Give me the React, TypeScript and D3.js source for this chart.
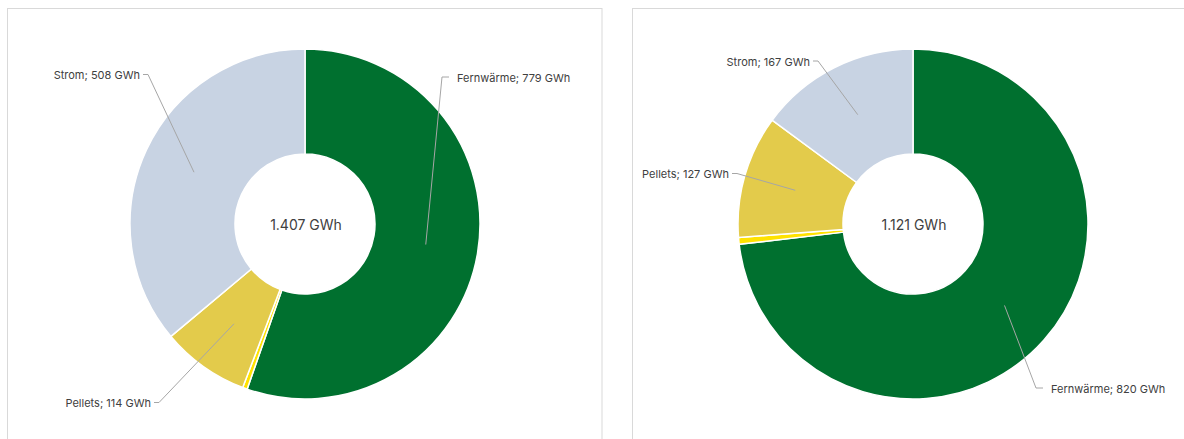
import React from "react";
import * as d3 from "d3";

// ---- data ----
const categories = ["Fernwärme", "Sonstige", "Pellets", "Strom"];
const valuesLeft = [779, 6, 114, 508];
const valuesRight = [820, 7, 127, 167];
const unit = "GWh";

// ---- layout / style ----
const W = 1184;
const H = 439;
const colors = ["#00702F", "#FFE200", "#E3CB4B", "#C8D3E3"];
const outerR = 175;
const innerR = 70;

type LabelLayout = { cat: string; ax: number; ay: number; side: "left" | "right" };

const charts = [
  {
    values: valuesLeft,
    cx: 305,
    cy: 224,
    panel: { x: 7.5, y: 8.5, w: 594.5, h: 440 },
    labels: [
      { cat: "Strom", ax: -162, ay: -149.5, side: "left" },
      { cat: "Fernwärme", ax: 144, ay: -147, side: "right" },
      { cat: "Pellets", ax: -151, ay: 178.5, side: "left" },
    ] as LabelLayout[],
  },
  {
    values: valuesRight,
    cx: 913,
    cy: 224,
    panel: { x: 632.5, y: 8.5, w: 600, h: 440 },
    labels: [
      { cat: "Strom", ax: -100, ay: -163, side: "left" },
      { cat: "Pellets", ax: -181, ay: -50.5, side: "left" },
      { cat: "Fernwärme", ax: 130, ay: 164, side: "right" },
    ] as LabelLayout[],
  },
];

const de = d3.formatLocale({
  decimal: ",",
  thousands: ".",
  grouping: [3],
  currency: ["", " €"],
});
const fmt = de.format(",d");

const FONT = "Inter, 'Liberation Sans', Arial, sans-serif";

function Donut({ chart }: { chart: (typeof charts)[number] }) {
  const data = categories.map((c, i) => ({ cat: c, value: chart.values[i], color: colors[i] }));
  const pie = d3
    .pie<(typeof data)[number]>()
    .value((d) => d.value)
    .sort(null);
  const arcs = pie(data);
  const arc = d3
    .arc<d3.PieArcDatum<(typeof data)[number]>>()
    .innerRadius(innerR)
    .outerRadius(outerR);
  const total = d3.sum(chart.values);
  const p = chart.panel;

  return (
    <g>
      <rect x={p.x} y={p.y} width={p.w} height={p.h} fill="#fff" stroke="#d9d9d9" strokeWidth={1} />
      <g transform={`translate(${chart.cx},${chart.cy})`}>
        {arcs.map((a, i) => (
          <path key={i} d={arc(a) || ""} fill={a.data.color} stroke="#fff" strokeWidth={1.5} strokeLinejoin="round" />
        ))}
        {chart.labels.map((l, i) => {
          const a = arcs.find((x) => x.data.cat === l.cat)!;
          const [px, py] = arc.centroid(a);
          const hook = l.side === "left" ? 5 : -7;
          const ex = l.ax + hook;
          const tx = l.side === "left" ? l.ax - 3 : l.ax + 8;
          return (
            <g key={i}>
              <polyline
                points={`${l.ax},${l.ay} ${ex},${l.ay} ${px},${py}`}
                fill="none"
                stroke="#a6a6a6"
                strokeWidth={1}
              />
              <text
                x={tx}
                y={l.ay + 4.5}
                textAnchor={l.side === "left" ? "end" : "start"}
                fontSize={11}
                fill="#404040"
                fontFamily={FONT}
              >
                {`${l.cat}; ${a.data.value} ${unit}`}
              </text>
            </g>
          );
        })}
        <text x={1} y={5.5} textAnchor="middle" fontSize={14} fill="#404040" fontFamily={FONT}>
          {`${fmt(total)} ${unit}`}
        </text>
      </g>
    </g>
  );
}

export default function App() {
  return (
    <svg
      width={W}
      height={H}
      viewBox={`0 0 ${W} ${H}`}
      style={{ position: "absolute", left: 0, top: 0, background: "#fff" }}
    >
      <rect x={0} y={0} width={W} height={H} fill="#fff" />
      {charts.map((c, i) => (
        <Donut key={i} chart={c} />
      ))}
    </svg>
  );
}
